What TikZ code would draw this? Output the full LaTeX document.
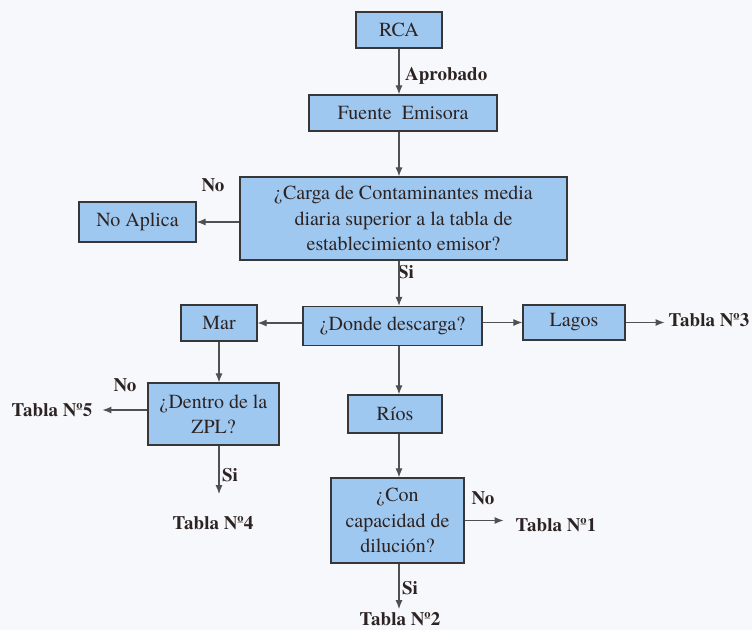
\documentclass[tikz,border=0pt]{standalone}
\usepackage{fontspec}
\setmainfont{texgyretermes}[Extension=.otf, UprightFont=*-regular, BoldFont=*-bold]
\usetikzlibrary{arrows.meta}
\definecolor{cajaazul}{RGB}{158,200,240}
\definecolor{borde}{RGB}{55,55,55}
\definecolor{flechagris}{RGB}{80,80,80}
\definecolor{texto}{RGB}{45,35,35}
\definecolor{fondo}{RGB}{247,248,251}

\begin{document}
\begin{tikzpicture}[x=1pt,y=-1pt,
  caja/.style={draw=borde, line width=1.2pt, fill=cajaazul, inner sep=0pt, align=center,
    font=\rmfamily\fontsize{20}{25.5}\selectfont, text=texto},
  etiq/.style={font=\rmfamily\fontsize{19}{22}\selectfont\bfseries, text=texto, inner sep=0pt},
  flecha/.style={-{Latex[length=9pt,width=7pt]}, line width=1.1pt, draw=flechagris}]
  \fill[fondo] (0,0) rectangle (752,630);
  \useasboundingbox (0,0) rectangle (752,630);
  % cajas
  \node[caja, minimum width=86, minimum height=36] (rca) at (399,30) {RCA};
  \node[caja, minimum width=188, minimum height=36] (fuente) at (403,113) {Fuente~ Emisora};
  \node[caja, minimum width=327, minimum height=83] (carga) at (403.5,218.5)
    {¿Carga de Contaminantes media\\diaria superior a la tabla de\\establecimiento emisor?};
  \node[caja, minimum width=117, minimum height=40] (noaplica) at (137.5,222) {No Aplica};
  \node[caja, minimum width=179, minimum height=39] (donde) at (392.5,326) {¿Donde descarga?};
  \node[caja, minimum width=76, minimum height=36] (mar) at (219,323) {Mar};
  \node[caja, minimum width=102, minimum height=35] (lagos) at (574,322.5) {Lagos};
  \node[caja, minimum width=131, minimum height=62] (dentro) at (213.5,414) {¿Dentro de la\\ZPL?};
  \node[caja, minimum width=94, minimum height=38] (rios) at (395,414) {Ríos};
  \node[caja, minimum width=133, minimum height=85] (con) at (397.5,520.5) {¿Con\\capacidad de\\dilución?};
  % etiquetas
  \node[etiq, anchor=west] (aprobado) at (405,76) {Aprobado};
  \node[etiq] (no1) at (213,185) {No};
  \node[etiq] (si1) at (406,272) {Si};
  \node[etiq] (tabla3) at (709,320) {Tabla Nº3};
  \node[etiq] (no2) at (125,385) {No};
  \node[etiq] (tabla5) at (52,410) {Tabla Nº5};
  \node[etiq] (si2) at (230,475) {Si};
  \node[etiq] (tabla4) at (213,523) {Tabla Nº4};
  \node[etiq] (no3) at (483,498) {No};
  \node[etiq] (tabla1) at (556,525) {Tabla Nº1};
  \node[etiq] (si3) at (410,588) {Si};
  \node[etiq] (tabla2) at (400,619) {Tabla Nº2};
  % flechas
  \draw[flecha] (rca) -- (rca |- fuente.north);
  \draw[flecha] (rca |- fuente.south) -- (rca |- carga.north);
  \draw[flecha] (carga.west |- noaplica) -- (noaplica.east);
  \draw[flecha] (rca |- carga.south) -- (rca |- donde.north);
  \draw[flecha] (donde.west |- mar) -- (mar.east);
  \draw[flecha] (donde.east |- lagos) -- (lagos.west);
  \draw[flecha, shorten >=4pt] (lagos.east) -- (lagos -| tabla3.west);
  \draw[flecha] (rca |- donde.south) -- (rca |- rios.north);
  \draw[flecha] (mar.south) -- (mar |- dentro.north);
  \draw[flecha, shorten >=10pt] (dentro.west |- tabla5) -- (tabla5.east);
  \draw[flecha, shorten >=22pt] (mar |- dentro.south) -- (mar |- tabla4.north);
  \draw[flecha] (rca |- rios.south) -- (rca |- con.north);
  \draw[flecha, shorten >=12pt] (con.east) -- (con -| tabla1.west);
  \draw[flecha, shorten >=3pt] (rca |- con.south) -- (rca |- tabla2.north);
\end{tikzpicture}
\end{document}
